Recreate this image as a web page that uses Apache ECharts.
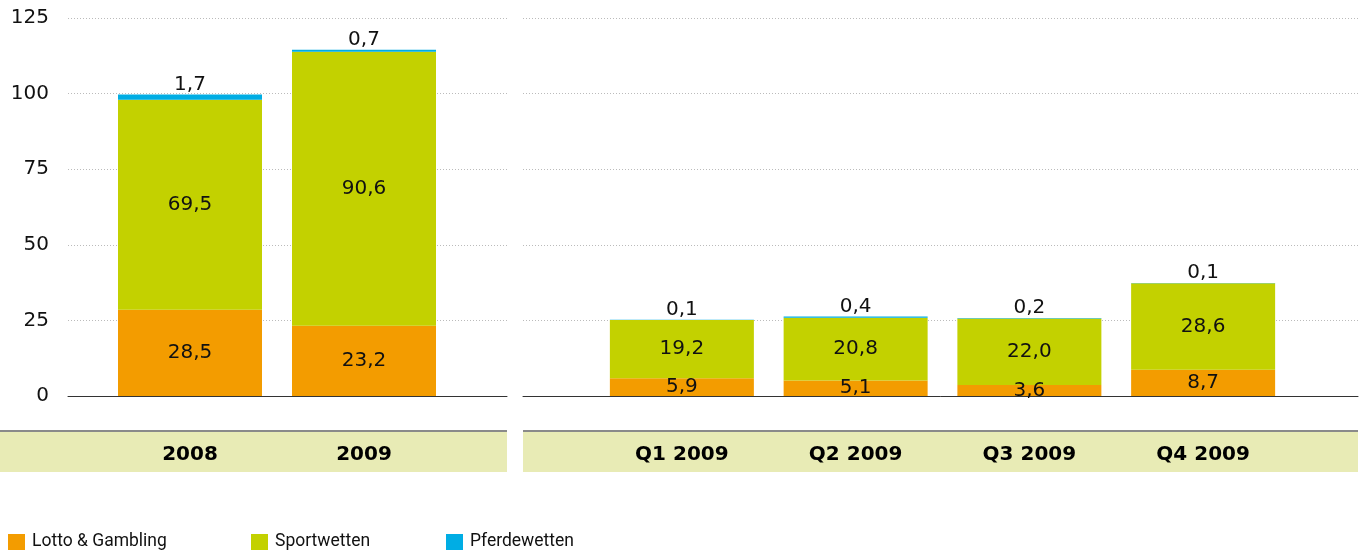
<!DOCTYPE html>
<html><head><meta charset="utf-8">
<script src="https://cdn.jsdelivr.net/npm/echarts@6/dist/echarts.min.js"></script>
<style>html,body{margin:0;padding:0;background:#fff}#c{width:1360px;height:553px}</style>
</head><body><div id="c"></div>
<script>
const yearCats = ['2008', '2009'];
const quarterCats = ['Q1 2009', 'Q2 2009', 'Q3 2009', 'Q4 2009'];
const seriesNames = ['Lotto & Gambling', 'Sportwetten', 'Pferdewetten'];
const yearLotto = [28.5, 23.2];
const yearSport = [69.5, 90.6];
const yearPferd = [1.7, 0.7];
const qLotto = [5.9, 5.1, 3.6, 8.7];
const qSport = [19.2, 20.8, 22.0, 28.6];
const qPferd = [0.1, 0.4, 0.2, 0.1];
const yTicks = [0, 25, 50, 75, 100, 125];

const colors = ['#f39c00', '#c3d100', '#00ade4'];
const numFont = 'DejaVu Sans';
const fmt = p => p.value.toFixed(1).replace('.', ',');

const chart = echarts.init(document.getElementById('c'));
const TOP = 18, H = 378;
const yBase = {type: 'value', min: yTicks[0], max: yTicks[yTicks.length - 1], interval: 25};

function bar(name, data, idx, ci, pos) {
  return {
    name, type: 'bar', stack: 's' + idx, xAxisIndex: idx, yAxisIndex: idx,
    data, barWidth: 144, itemStyle: {color: colors[ci]},
    label: {show: true, position: pos, distance: 0, formatter: fmt, color: '#111',
      fontFamily: numFont, fontSize: 20}
  };
}

chart.setOption({
  animation: false,
  grid: [
    {left: 68, width: 439, top: TOP, height: H},
    {left: 523, width: 835, top: TOP, height: H},
    {left: 103, width: 348, top: TOP, height: H},
    {left: 595, width: 695, top: TOP, height: H}
  ],
  xAxis: [
    {gridIndex: 0, type: 'category', data: [''], axisLine: {lineStyle: {color: '#333', width: 1}}, axisTick: {show: false}, axisLabel: {show: false}},
    {gridIndex: 1, type: 'category', data: [''], axisLine: {lineStyle: {color: '#333', width: 1}}, axisTick: {show: false}, axisLabel: {show: false}},
    {gridIndex: 2, type: 'category', data: yearCats, axisLine: {show: false}, axisTick: {show: false},
      axisLabel: {margin: 49, fontFamily: numFont, fontWeight: 'bold', fontSize: 20, color: '#000'}},
    {gridIndex: 3, type: 'category', data: quarterCats, axisLine: {show: false}, axisTick: {show: false},
      axisLabel: {margin: 49, fontFamily: numFont, fontWeight: 'bold', fontSize: 20, color: '#000'}}
  ],
  yAxis: [
    Object.assign({gridIndex: 0, axisLine: {show: false}, axisTick: {show: false},
      axisLabel: {margin: 19, fontFamily: numFont, fontSize: 20, color: '#111'},
      splitLine: {lineStyle: {color: '#bbb', type: [1, 2], width: 1}}}, yBase),
    Object.assign({gridIndex: 1, axisLine: {show: false}, axisTick: {show: false}, axisLabel: {show: false},
      splitLine: {lineStyle: {color: '#bbb', type: [1, 2], width: 1}}}, yBase),
    Object.assign({gridIndex: 2, show: false, splitLine: {show: false}}, yBase),
    Object.assign({gridIndex: 3, show: false, splitLine: {show: false}}, yBase)
  ],
  legend: [0, 1, 2].map((i) => ({
    data: [seriesNames[i]], left: [8, 251, 446][i], top: 533, padding: 0, itemWidth: 17, itemHeight: 16,
    icon: 'rect', itemGap: 6, selectedMode: false,
    textStyle: {fontFamily: 'Roboto', fontSize: 17.5, color: '#111', padding: [0, 0, 0, 2]}
  })),
  graphic: [
    {type: 'rect', silent: true, z: -1, shape: {x: 0, y: 431, width: 507, height: 41}, style: {fill: '#e8ebb5'}},
    {type: 'rect', silent: true, z: -1, shape: {x: 523, y: 431, width: 835, height: 41}, style: {fill: '#e8ebb5'}},
    {type: 'line', silent: true, shape: {x1: 0, y1: 431, x2: 507, y2: 431}, style: {stroke: '#8a8a8a', lineWidth: 2}},
    {type: 'line', silent: true, shape: {x1: 523, y1: 431, x2: 1358, y2: 431}, style: {stroke: '#8a8a8a', lineWidth: 2}}
  ],
  series: [
    bar(seriesNames[0], yearLotto, 2, 0, 'inside'),
    bar(seriesNames[1], yearSport, 2, 1, 'inside'),
    bar(seriesNames[2], yearPferd, 2, 2, 'top'),
    bar(seriesNames[0], qLotto, 3, 0, 'inside'),
    bar(seriesNames[1], qSport, 3, 1, 'inside'),
    bar(seriesNames[2], qPferd, 3, 2, 'top')
  ]
});
</script></body></html>
